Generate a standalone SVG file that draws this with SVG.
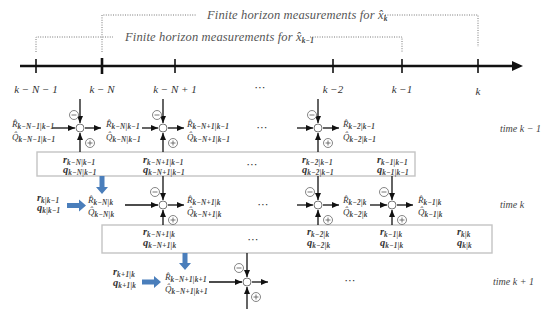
<svg xmlns="http://www.w3.org/2000/svg" width="550" height="309" viewBox="0 0 550 309">
<style>
text{font-family:"Liberation Serif","DejaVu Serif",serif;font-style:italic;fill:#333}
.tl{font-size:11px}
.fh{font-size:12.5px;fill:#555;letter-spacing:0.15px}
.R{font-size:9px}
.rq{font-size:10.5px;font-weight:bold}
.s{font-size:7.2px;font-weight:bold;letter-spacing:0.3px;fill:#444}
.tm{font-size:10px;fill:#444}
.dots{font-size:11px;font-style:normal;font-family:"DejaVu Sans",sans-serif;fill:#333}
.ln{stroke:#111;stroke-width:1.3;fill:none}
.sm{fill:#fff;stroke:#666;stroke-width:0.9}
.pm{fill:#fff;stroke:#666;stroke-width:0.8}
.pms{stroke:#555;stroke-width:0.8}
.box{fill:none;stroke:#c4c4c4;stroke-width:1.4}
.dot{stroke:#777;stroke-width:1;stroke-dasharray:1 1.4;fill:none}
.blue{fill:#4a7ebb}
</style>
<defs>
<marker id="ah" markerWidth="7" markerHeight="6" refX="7" refY="3" orient="auto" markerUnits="userSpaceOnUse">
<path d="M0,0 L7,3 L0,6 z" fill="#111"/>
</marker>
<g id="minus"><circle r="4.5" class="pm"/><line x1="-2.5" y1="0" x2="2.5" y2="0" class="pms"/></g>
<g id="plus"><circle r="4.5" class="pm"/><line x1="-2.5" y1="0" x2="2.5" y2="0" class="pms"/><line x1="0" y1="-2.5" x2="0" y2="2.5" class="pms"/></g>
</defs>
<rect width="550" height="309" fill="#fff"/>

<g id="timeline">
<line x1="20" y1="66" x2="512" y2="66" stroke="#111" stroke-width="2.4"/>
<polygon points="512,61 523,66 512,71" fill="#111"/>
<line x1="36" y1="59" x2="36" y2="73" stroke="#111" stroke-width="1.6"/>
<line x1="102" y1="58" x2="102" y2="74" stroke="#111" stroke-width="2.6"/>
<line x1="175" y1="59" x2="175" y2="73" stroke="#111" stroke-width="1.6"/>
<line x1="333" y1="59" x2="333" y2="73" stroke="#111" stroke-width="1.6"/>
<line x1="402" y1="59" x2="402" y2="73" stroke="#111" stroke-width="1.6"/>
<line x1="478" y1="59" x2="478" y2="73" stroke="#111" stroke-width="1.6"/>
<text class="tl" x="36" y="93" text-anchor="middle">k − N − 1</text>
<text class="tl" x="102" y="93" text-anchor="middle">k − N</text>
<text class="tl" x="175" y="93" text-anchor="middle">k − N + 1</text>
<text class="dots" x="260" y="91" text-anchor="middle">⋯</text>
<text class="tl" x="333" y="93" text-anchor="middle">k −2</text>
<text class="tl" x="402" y="93" text-anchor="middle">k −1</text>
<text class="tl" x="478" y="95" text-anchor="middle">k</text>
</g>

<g id="horizon-k">
<path class="dot" d="M102,52 V15 H196"/>
<path class="dot" d="M385,15 H478 V47"/>
<text class="fh" x="207" y="19">Finite horizon measurements for x̂<tspan class="s" dy="2" font-size="8.5">k</tspan></text>
</g>
<g id="horizon-k-1">
<path class="dot" d="M36,52 V37 H113"/>
<path class="dot" d="M310,37 H402 V52"/>
<text class="fh" x="125" y="41">Finite horizon measurements for x̂<tspan class="s" dy="2" font-size="8.5">k−1</tspan></text>
</g>

<g id="boxes">
<rect id="box1" class="box" x="37" y="152" width="378" height="24"/>
<rect id="box2" class="box" x="102" y="225" width="390" height="28"/>
</g>

<g id="connectors">
<line class="ln" x1="80" y1="99" x2="80" y2="123" marker-end="url(#ah)"/>
<line class="ln" x1="80" y1="152" x2="80" y2="133" marker-end="url(#ah)"/>
<line class="ln" x1="52" y1="128" x2="75" y2="128" marker-end="url(#ah)"/>
<line class="ln" x1="85" y1="128" x2="101" y2="128" marker-end="url(#ah)"/>
<line class="ln" x1="163" y1="99" x2="163" y2="123" marker-end="url(#ah)"/>
<line class="ln" x1="163" y1="152" x2="163" y2="133" marker-end="url(#ah)"/>
<line class="ln" x1="142" y1="128" x2="158" y2="128" marker-end="url(#ah)"/>
<line class="ln" x1="168" y1="128" x2="184" y2="128" marker-end="url(#ah)"/>
<line class="ln" x1="318" y1="99" x2="318" y2="123" marker-end="url(#ah)"/>
<line class="ln" x1="318" y1="152" x2="318" y2="133" marker-end="url(#ah)"/>
<line class="ln" x1="297" y1="128" x2="313" y2="128" marker-end="url(#ah)"/>
<line class="ln" x1="323" y1="128" x2="339" y2="128" marker-end="url(#ah)"/>
<line class="ln" x1="163" y1="176" x2="163" y2="200" marker-end="url(#ah)"/>
<line class="ln" x1="163" y1="225" x2="163" y2="210" marker-end="url(#ah)"/>
<line class="ln" x1="125" y1="205" x2="158" y2="205" marker-end="url(#ah)"/>
<line class="ln" x1="168" y1="205" x2="184" y2="205" marker-end="url(#ah)"/>
<line class="ln" x1="318" y1="176" x2="318" y2="200" marker-end="url(#ah)"/>
<line class="ln" x1="318" y1="225" x2="318" y2="210" marker-end="url(#ah)"/>
<line class="ln" x1="297" y1="205" x2="313" y2="205" marker-end="url(#ah)"/>
<line class="ln" x1="323" y1="205" x2="339" y2="205" marker-end="url(#ah)"/>
<line class="ln" x1="392" y1="176" x2="392" y2="200" marker-end="url(#ah)"/>
<line class="ln" x1="392" y1="225" x2="392" y2="210" marker-end="url(#ah)"/>
<line class="ln" x1="370" y1="205" x2="387" y2="205" marker-end="url(#ah)"/>
<line class="ln" x1="397" y1="205" x2="413" y2="205" marker-end="url(#ah)"/>
<line class="ln" x1="247" y1="253" x2="247" y2="277" marker-end="url(#ah)"/>
<line class="ln" x1="247" y1="309" x2="247" y2="287" marker-end="url(#ah)"/>
<line class="ln" x1="209" y1="282" x2="242" y2="282" marker-end="url(#ah)"/>
<line class="ln" x1="252" y1="282" x2="268" y2="282" marker-end="url(#ah)"/>
<polygon class="blue" points="67,203 79,203 79,199.5 86,205.5 79,211.5 79,208 67,208"/>
<polygon class="blue" points="99.5,176 104.5,176 104.5,187 108,187 102,194 96,187 99.5,187"/>
<polygon class="blue" points="142,279.5 154,279.5 154,276 161,282 154,288 154,284.5 142,284.5"/>
<polygon class="blue" points="182.5,253 187.5,253 187.5,263 191,263 185,270 179,263 182.5,263"/>
</g>

<g id="sum-r1-1"><circle cx="80" cy="128" r="4" class="sm"/><use href="#minus" x="74" y="115"/><use href="#plus" x="90" y="143"/></g>
<g id="sum-r1-2"><circle cx="163" cy="128" r="4" class="sm"/><use href="#minus" x="157" y="115"/><use href="#plus" x="173" y="143"/></g>
<g id="sum-r1-3"><circle cx="318" cy="128" r="4" class="sm"/><use href="#minus" x="312" y="115"/><use href="#plus" x="328" y="143"/></g>
<g id="sum-r2-1"><circle cx="163" cy="205" r="4" class="sm"/><use href="#minus" x="155" y="192"/><use href="#plus" x="173" y="220"/></g>
<g id="sum-r2-2"><circle cx="318" cy="205" r="4" class="sm"/><use href="#minus" x="310" y="192"/><use href="#plus" x="328" y="220"/></g>
<g id="sum-r2-3"><circle cx="392" cy="205" r="4" class="sm"/><use href="#minus" x="384" y="192"/><use href="#plus" x="402" y="220"/></g>
<g id="sum-r3-1"><circle cx="247" cy="282" r="4" class="sm"/><use href="#minus" x="239" y="268"/><use href="#plus" x="256" y="297"/></g>

<g id="row1-labels">
<text class="R" x="12" y="127">R̂<tspan class="s" dy="2">k−N−1|k−1</tspan></text>
<text class="R" x="12" y="140">Q̂<tspan class="s" dy="2">k−N−1|k−1</tspan></text>
<text class="R" x="106" y="127">R̂<tspan class="s" dy="2">k−N|k−1</tspan></text>
<text class="R" x="106" y="140">Q̂<tspan class="s" dy="2">k−N|k−1</tspan></text>
<text class="R" x="187" y="127">R̂<tspan class="s" dy="2">k−N+1|k−1</tspan></text>
<text class="R" x="187" y="140">Q̂<tspan class="s" dy="2">k−N+1|k−1</tspan></text>
<text class="dots" x="262" y="131" text-anchor="middle">⋯</text>
<text class="R" x="343" y="127">R̂<tspan class="s" dy="2">k−2|k−1</tspan></text>
<text class="R" x="343" y="140">Q̂<tspan class="s" dy="2">k−2|k−1</tspan></text>
<text class="tm" x="500" y="132">time k − 1</text>
</g>

<g id="box1-labels">
<text class="rq" x="63" y="163">r<tspan class="s" dy="2">k−N|k−1</tspan></text>
<text class="rq" x="63" y="173">q<tspan class="s" dy="2">k−N|k−1</tspan></text>
<text class="rq" x="143" y="163">r<tspan class="s" dy="2">k−N+1|k−1</tspan></text>
<text class="rq" x="143" y="173">q<tspan class="s" dy="2">k−N+1|k−1</tspan></text>
<text class="dots" x="252" y="168" text-anchor="middle">⋯</text>
<text class="rq" x="302" y="163">r<tspan class="s" dy="2">k−2|k−1</tspan></text>
<text class="rq" x="302" y="173">q<tspan class="s" dy="2">k−2|k−1</tspan></text>
<text class="rq" x="377" y="163">r<tspan class="s" dy="2">k−1|k−1</tspan></text>
<text class="rq" x="377" y="173">q<tspan class="s" dy="2">k−1|k−1</tspan></text>
</g>

<g id="row2-labels">
<text class="rq" x="37" y="201">r<tspan class="s" dy="2">k|k−1</tspan></text>
<text class="rq" x="37" y="211">q<tspan class="s" dy="2">k|k−1</tspan></text>
<text class="R" x="88" y="203">R̂<tspan class="s" dy="2">k−N|k</tspan></text>
<text class="R" x="88" y="215">Q̂<tspan class="s" dy="2">k−N|k</tspan></text>
<text class="R" x="187" y="203">R̂<tspan class="s" dy="2">k−N+1|k</tspan></text>
<text class="R" x="187" y="215">Q̂<tspan class="s" dy="2">k−N+1|k</tspan></text>
<text class="dots" x="263" y="208" text-anchor="middle">⋯</text>
<text class="R" x="343" y="203">R̂<tspan class="s" dy="2">k−2|k</tspan></text>
<text class="R" x="343" y="215">Q̂<tspan class="s" dy="2">k−2|k</tspan></text>
<text class="R" x="418" y="203">R̂<tspan class="s" dy="2">k−1|k</tspan></text>
<text class="R" x="418" y="215">Q̂<tspan class="s" dy="2">k−1|k</tspan></text>
<text class="tm" x="500" y="208">time k</text>
</g>

<g id="box2-labels">
<text class="rq" x="143" y="235">r<tspan class="s" dy="2">k−N+1|k</tspan></text>
<text class="rq" x="143" y="246">q<tspan class="s" dy="2">k−N+1|k</tspan></text>
<text class="dots" x="253" y="243" text-anchor="middle">⋯</text>
<text class="rq" x="307" y="235">r<tspan class="s" dy="2">k−2|k</tspan></text>
<text class="rq" x="307" y="246">q<tspan class="s" dy="2">k−2|k</tspan></text>
<text class="rq" x="380" y="235">r<tspan class="s" dy="2">k−1|k</tspan></text>
<text class="rq" x="380" y="246">q<tspan class="s" dy="2">k−1|k</tspan></text>
<text class="rq" x="457" y="235">r<tspan class="s" dy="2">k|k</tspan></text>
<text class="rq" x="457" y="246">q<tspan class="s" dy="2">k|k</tspan></text>
</g>

<g id="row3-labels">
<text class="rq" x="113" y="275">r<tspan class="s" dy="2">k+1|k</tspan></text>
<text class="rq" x="113" y="286">q<tspan class="s" dy="2">k+1|k</tspan></text>
<text class="R" x="165" y="280">R̂<tspan class="s" dy="2">k−N+1|k+1</tspan></text>
<text class="R" x="165" y="292">Q̂<tspan class="s" dy="2">k−N+1|k+1</tspan></text>
<text class="dots" x="350" y="284" text-anchor="middle">⋯</text>
<text class="tm" x="493" y="285">time k + 1</text>
</g>
</svg>
